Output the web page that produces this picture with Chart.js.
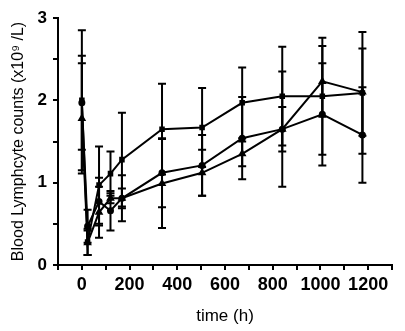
<!DOCTYPE html>
<html>
<head>
<meta charset="utf-8">
<script src="https://cdn.jsdelivr.net/npm/chart.js@4/dist/chart.umd.min.js"></script>
<style>
  html, body { margin: 0; padding: 0; background: #fff; }
  #wrap { width: 405px; height: 331px; }
</style>
</head>
<body>
<div id="wrap"><canvas id="lymphChart" width="405" height="331"></canvas></div>
<script>
// time points (h)
const times = [0, 24, 72, 120, 168, 336, 504, 672, 840, 1008, 1176];

// group means and error (x10^9/L)
const squareMean = [2.0, 0.28, 0.97, 1.11, 1.28, 1.65, 1.67, 1.97, 2.05, 2.05, 2.09];
const squareErr  = [0.85, 0.16, 0.47, 0.27, 0.57, 0.55, 0.48, 0.43, 0.60, 0.71, 0.74];

const circleMean = [1.97, 0.47, 0.77, 0.66, 0.81, 1.12, 1.21, 1.54, 1.65, 1.83, 1.58];
const circleErr  = [0.57, 0.20, 0.29, 0.24, 0.12, 0.42, 0.37, 0.50, 0.70, 0.62, 0.58];

const triangleMean = [1.78, 0.27, 0.64, 0.81, 0.81, 0.99, 1.12, 1.35, 1.65, 2.23, 2.10];
const triangleErr  = [0.67, 0.15, 0.31, 0.06, 0.28, 0.54, 0.28, 0.15, 0.27, 0.43, 0.53];

const xTicks = [0, 200, 400, 600, 800, 1000, 1200];

const toPoints = (means) => times.map((t, i) => ({ x: t, y: means[i] }));

const errorBars = {
  id: "errorBars",
  beforeDatasetsDraw(chart) {
    const { ctx, scales: { x, y } } = chart;
    const errs = [squareErr, circleErr, triangleErr];
    ctx.save();
    ctx.strokeStyle = "#000";
    ctx.lineWidth = 2;
    chart.data.datasets.forEach((ds, d) => {
      ds.data.forEach((p, i) => {
        const px = x.getPixelForValue(p.x);
        const top = y.getPixelForValue(p.y + errs[d][i]);
        const bot = y.getPixelForValue(p.y - errs[d][i]);
        ctx.beginPath();
        ctx.moveTo(px, top);
        ctx.lineTo(px, bot);
        ctx.moveTo(px - 4, top);
        ctx.lineTo(px + 4, top);
        ctx.moveTo(px - 4, bot);
        ctx.lineTo(px + 4, bot);
        ctx.stroke();
      });
    });
    ctx.restore();
  },
};

const base = {
  borderColor: "#000",
  backgroundColor: "#000",
  borderWidth: 2,
  pointRadius: 2.5,
  showLine: true,
  tension: 0,
};

new Chart(document.getElementById("lymphChart"), {
  type: "scatter",
  data: {
    datasets: [
      { ...base, label: "square", data: toPoints(squareMean), pointStyle: "rect" },
      { ...base, label: "circle", data: toPoints(circleMean), pointStyle: "circle" },
      { ...base, label: "triangle", data: toPoints(triangleMean), pointStyle: "triangle", pointRadius: 3 },
    ],
  },
  options: {
    responsive: false,
    animation: false,
    layout: { padding: { top: 18, right: 13, left: 0, bottom: 0 } },
    plugins: { legend: { display: false }, tooltip: { enabled: false } },
    scales: {
      x: {
        type: "linear",
        min: -100,
        max: 1300,
        border: { color: "#000", width: 2 },
        grid: { drawOnChartArea: false, color: "#000", tickLength: 5, lineWidth: 2 },
        afterBuildTicks: (axis) => {
          const t = [];
          for (let v = -100; v <= 1300; v += 100) t.push({ value: v });
          axis.ticks = t;
        },
        ticks: {
          autoSkip: false,
          maxRotation: 0,
          color: "#000",
          padding: 4,
          font: { family: "'Liberation Sans', Arial", size: 18, weight: "bold" },
          callback: (v) => (xTicks.includes(v) ? String(v) : ""),
        },
        title: {
          display: true,
          text: "time (h)",
          color: "#000",
          padding: { top: 2 },
          font: { family: "'Liberation Sans', Arial", size: 17 },
        },
        afterFit: (s) => { s.height = 66; },
      },
      y: {
        min: 0,
        max: 3,
        border: { color: "#000", width: 2 },
        grid: { drawOnChartArea: false, color: "#000", tickLength: 5, lineWidth: 2 },
        afterBuildTicks: (axis) => {
          const t = [];
          for (let v = 0; v <= 3; v += 0.5) t.push({ value: v });
          axis.ticks = t;
        },
        ticks: {
          autoSkip: false,
          color: "#000",
          padding: 6,
          font: { family: "'Liberation Sans', Arial", size: 17, weight: "bold" },
          callback: (v) => (Number.isInteger(v) ? String(v) : ""),
        },
        title: {
          display: true,
          text: "Blood Lymphcyte counts (x10⁹ /L)",
          color: "#000",
          padding: { top: 9, bottom: 0 },
          font: { family: "'Liberation Sans', Arial", size: 16 },
        },
        afterFit: (s) => { s.width = 58; },
      },
    },
  },
  plugins: [errorBars],
});
</script>
</body>
</html>
